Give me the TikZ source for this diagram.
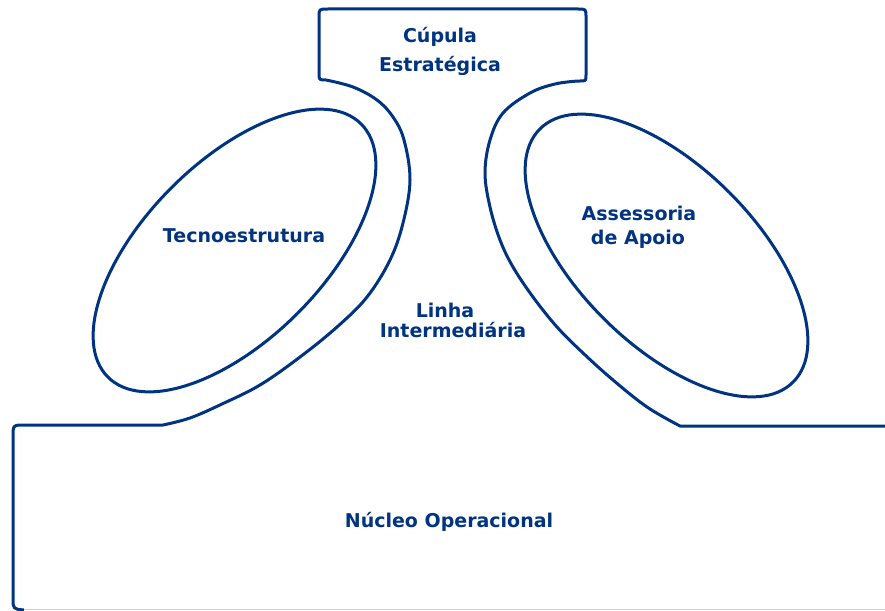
\documentclass[tikz,border=0pt]{standalone}
\usepackage{fontspec}
\setmainfont{DejaVu Sans}
\usepackage{xcolor}
\definecolor{navy}{RGB}{0,51,128}
\definecolor{faintline}{RGB}{200,210,225}

\begin{document}
\begin{tikzpicture}[x=1pt, y=-1pt,
  outline/.style={navy, line width=3pt, line join=round},
  partlabel/.style={navy, anchor=base, inner sep=0pt, font=\fontsize{19}{24}\selectfont\bfseries}]
\useasboundingbox (0,0) rectangle (885,610);

% Outer shape: base, neck and apex
\draw[outline] (885,426) -- (680,426)
  -- plot[smooth, tension=0.6] coordinates {(680,426) (647,407) (613,380) (583,353) (557,327) (533,297) (513,267) (500,240) (490,207) (485,173) (490,140) (503,113) (530,93) (555,84) (578,81)}
  -- (580,81) .. controls (586,81) .. (586,75) -- (586,17) .. controls (586,9) .. (578,9)
  -- (328,9) .. controls (319,9) .. (319,17) -- (319,73) .. controls (319,80) .. (326,80)
  -- plot[smooth, tension=0.6] coordinates {(326,80) (353,87) (377,100) (393,117) (404,140) (410,180) (403,223) (390,260) (367,297) (337,327) (300,357) (260,385) (222,404) (190,418) (163,425)}
  -- (25,425) .. controls (13,425) .. (13,437) -- (13,598) .. controls (13,609) .. (24,610);
\draw[faintline, line width=1pt] (24,609.5) -- (885,609.5);

% Side units
\draw[outline] (234.5,250.5) [rotate around={45:(234.5,250.5)}] ellipse (179 and 89);
\draw[outline] (666.5,255.5) [rotate around={-45:(666.5,255.5)}] ellipse (179 and 89);

% Labels
\node[partlabel] (cupula) at (440,43) {Cúpula};
\node[partlabel] (estrategica) at (440,71) {Estratégica};
\node[partlabel] (tecno) at (244,242) {Tecnoestrutura};
\node[partlabel] (assessoria) at (639,220) {Assessoria};
\node[partlabel] (apoio) at (638,244) {de Apoio};
\node[partlabel] (linha) at (445,317) {Linha};
\node[partlabel] (intermediaria) at (453,337) {Intermediária};
\node[partlabel] (nucleo) at (449,527) {Núcleo Operacional};
\end{tikzpicture}
\end{document}
